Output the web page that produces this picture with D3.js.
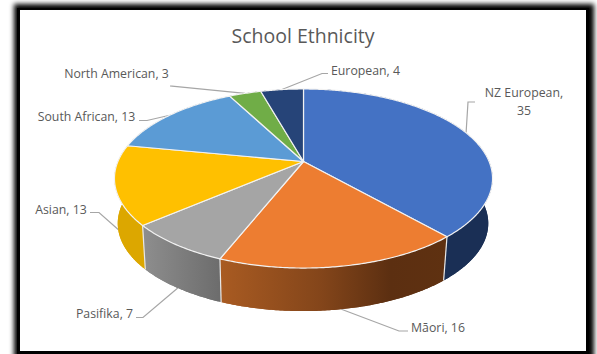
<!DOCTYPE html>
<html>
<head>
<meta charset="utf-8">
<script src="https://cdn.jsdelivr.net/npm/d3@7/dist/d3.min.js"></script>
<style>
html,body{margin:0;padding:0;background:#fff;overflow:hidden}
svg{display:block}
text{font-family:"Open Sans","Noto Sans",sans-serif;fill:#595959}
</style>
</head>
<body>
<svg id="chart" width="597" height="354"></svg>
<script>
// School ethnicity breakdown, drawn as an extruded pie in perspective.
const categories = ["NZ European", "Māori", "Pasifika", "Asian", "South African", "North American", "European"];
const values = [35, 16, 7, 13, 13, 3, 4];
const topColors = ["#4472c4", "#ed7d31", "#a5a5a5", "#ffc000", "#5b9bd5", "#70ad47", "#264478"];

// Label layout per category: text lines, centre anchor, leader elbow, which rim the leader meets.
const labelLines = [["NZ European,", "35"], ["Māori, 16"], ["Pasifika, 7"], ["Asian, 13"], ["South African, 13"], ["North American, 3"], ["European, 4"]];
const labelX = [524, 438, 104.5, 61, 86.5, 116.5, 365.5];
const labelY = [92, 327, 313, 209, 116, 73, 70];
const elbows = [[[475, 102], [468, 102]], [[408, 331], [399, 331]], [[136, 317.5], [143, 317.5]], [[90, 212.5], [99, 212.5]], [[139, 120.5], [147, 120.5]], [[170, 86], [172, 86.2]], [[328, 73.5], [322, 73.5]]];
const leaderOnWall = [false, true, true, true, false, false, false];

const svg = d3.select("#chart");
const defs = svg.append("defs");

// Perspective model of the disc: k is the foreshortening toward the viewer.
const cx = 303.5, cy = 161.5, R = 185.6, A = 86.3, k = 0.19;
const depth = 45.2, bottomScale = 0.98, bottomShift = -0.5;
function project(angle, plane) {
  const u = Math.sin(angle), v = -Math.cos(angle), w = 1 - k * v;
  const isBottom = plane === "bottom";
  const s = isBottom ? bottomScale : 1;
  return [cx + (isBottom ? bottomShift : 0) + s * R * u / w, cy + (isBottom ? depth : 0) + s * A * v / w];
}
const rim = (a0, a1, plane) => {
  const n = Math.max(2, Math.ceil(Math.abs(a1 - a0) / 0.01));
  return d3.range(n + 1).map(i => project(a0 + (a1 - a0) * i / n, plane));
};

// Dark drop shadow around the white chart area.
const blur = defs.append("filter").attr("id", "frameShadow")
  .attr("x", "-5%").attr("y", "-5%").attr("width", "110%").attr("height", "110%");
blur.append("feGaussianBlur").attr("stdDeviation", 2.6);
svg.append("rect").attr("x", 14).attr("y", 4).attr("width", 580).attr("height", 370)
  .attr("fill", "#000").attr("filter", "url(#frameShadow)");
svg.append("rect").attr("x", 17).attr("y", 8).attr("width", 572).attr("height", 360).attr("fill", "#000");
svg.append("rect").attr("x", 20).attr("y", 10).attr("width", 566).attr("height", 341).attr("fill", "#fff");

// Title
svg.append("text").attr("x", 303).attr("y", 43).attr("text-anchor", "middle")
  .attr("font-size", 19.5).text("School Ethnicity");

const arcs = d3.pie().sort(null).value(d => d)(values);
const line = d3.line();

// Leader lines sit beneath the pie so the walls hide their ends.
arcs.forEach((d, i) => {
  const mid = (d.startAngle + d.endAngle) / 2;
  const end = project(mid, leaderOnWall[i] ? "bottom" : "top");
  svg.append("path").attr("d", line([...elbows[i], end]))
    .attr("fill", "none").attr("stroke", "#a6a6a6").attr("stroke-width", 1.2);
});

// Wall shading
const wallGradients = [
  [["0%", "#1a2f55"], ["100%", "#1a2f55"]],
  [["0%", "#a95b22"], ["45%", "#83451a"], ["75%", "#5c2f11"], ["100%", "#5f3111"]],
  [["0%", "#8e8e8e"], ["100%", "#6c6c6c"]],
  [["0%", "#dca700"], ["100%", "#dca700"]],
  [["0%", "#3f74a6"], ["100%", "#3f74a6"]],
  [["0%", "#527f34"], ["100%", "#527f34"]],
  [["0%", "#1a2f55"], ["100%", "#1a2f55"]]
];
wallGradients.forEach((stops, i) => {
  const g = defs.append("linearGradient").attr("id", "wall" + i);
  stops.forEach(s => g.append("stop").attr("offset", s[0]).attr("stop-color", s[1]));
});

// Walls: each slice's top rim joined to its bottom rim.
const walls = svg.append("g");
walls.selectAll("path.body").data(arcs).join("path").attr("class", "body")
  .attr("d", d => line([...rim(d.startAngle, d.endAngle, "top"), ...rim(d.endAngle, d.startAngle, "bottom")]) + "Z")
  .attr("fill", (d, i) => `url(#wall${i})`);

// Sweeping the rim down to the base fills in the silhouette at the disc's sides.
walls.selectAll("path.sweep").data(arcs).join("path").attr("class", "sweep")
  .attr("d", d => {
    const a = rim(d.startAngle, d.endAngle, "top"), b = rim(d.startAngle, d.endAngle, "bottom");
    return d3.range(a.length - 1).map(i => line([a[i], a[i + 1], b[i + 1], b[i]]) + "Z").join("");
  })
  .attr("fill", (d, i) => `url(#wall${i})`);

// Pale seams between the front walls.
arcs.forEach(d => {
  const a = d.endAngle;
  if (Math.cos(a) < -0.2) {
    svg.append("path").attr("d", line([project(a, "top"), project(a, "bottom")]))
      .attr("stroke", "#e8e8e8").attr("stroke-width", 1.2).attr("fill", "none");
  }
});

// Top face
svg.append("g").selectAll("path").data(arcs).join("path")
  .attr("d", d => line([[cx, cy], ...rim(d.startAngle, d.endAngle, "top")]) + "Z")
  .attr("fill", (d, i) => topColors[i])
  .attr("stroke", "#f2f2f2").attr("stroke-width", 1.2).attr("stroke-linejoin", "round");

// Data labels
labelLines.forEach((lines, i) => {
  const t = svg.append("text").attr("text-anchor", "middle").attr("font-size", 12.3);
  lines.forEach((s, j) => t.append("tspan").attr("x", labelX[i]).attr("y", labelY[i] + 4.5 + j * 18).text(s));
});
</script>
</body>
</html>
